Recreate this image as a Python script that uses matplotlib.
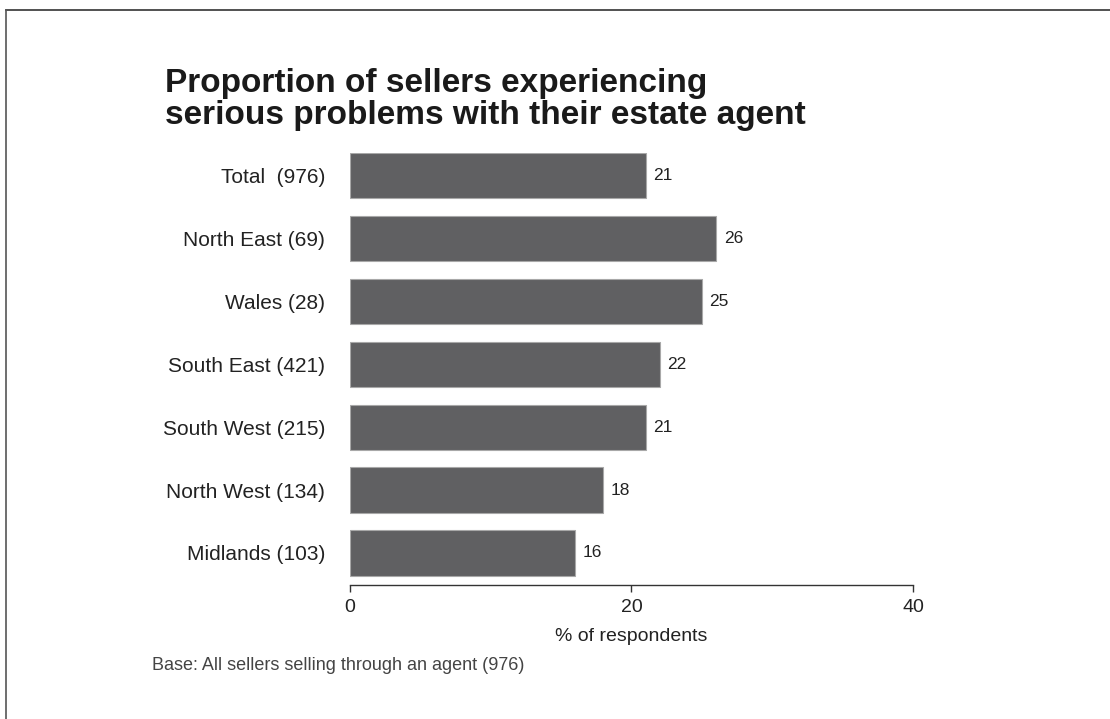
import matplotlib
matplotlib.use("Agg")
import matplotlib.pyplot as plt
from matplotlib.lines import Line2D

plt.rcParams["font.family"] = ["Liberation Sans", "DejaVu Sans"]

regions = ["Total  (976)", "North East (69)", "Wales (28)", "South East (421)",
           "South West (215)", "North West (134)", "Midlands (103)"]
pct = [21, 26, 25, 22, 21, 18, 16]
xticks = [0, 20, 40]

BAR = "#606062"
TXT = "#222222"

fig = plt.figure(figsize=(11.1, 7.19), dpi=100)
ax = fig.add_axes([0.3153, 0.1864, 0.5072, 0.6008])

pos = range(len(regions))
ax.barh(pos, pct, height=0.72, color=BAR, edgecolor="#a8a8a8", linewidth=0.8)
for y, v in zip(pos, pct):
    ax.text(v + 0.55, y, f"{v}", va="center", ha="left", fontsize=12.5, color=TXT)

ax.set_xlim(0, 40)
ax.set_ylim(6.51, -0.36)
ax.set_yticks(list(pos))
ax.set_yticklabels(regions, fontsize=15, color=TXT)
ax.tick_params(axis="y", length=0, pad=18)
ax.set_xticks(xticks)
ax.set_xticklabels([str(t) for t in xticks], fontsize=14, color=TXT)
ax.tick_params(axis="x", direction="out", length=5, width=1, color="#333333", pad=5)
ax.set_xlabel("% of respondents", fontsize=14, color=TXT, labelpad=9)
for side in ("top", "right", "left"):
    ax.spines[side].set_visible(False)
ax.spines["bottom"].set_color("#333333")
ax.spines["bottom"].set_linewidth(1)

fig.text(0.1486, 0.906, "Proportion of sellers experiencing\nserious problems with their estate agent",
         fontweight="bold", fontsize=24, color="#1a1a1a", va="top", ha="left",
         linespacing=1.06)

fig.text(0.137, 0.075, "Base: All sellers selling through an agent (976)",
         fontsize=13, color="#444444", va="center", ha="left")

# frame lines along top and left
fig.add_artist(Line2D([0.0055, 1.0], [0.986, 0.986], color="#333333", lw=1.2))
fig.add_artist(Line2D([0.0055, 0.0055], [0.0, 0.986], color="#555555", lw=1.2))

fig.savefig("out.png", dpi=100)
